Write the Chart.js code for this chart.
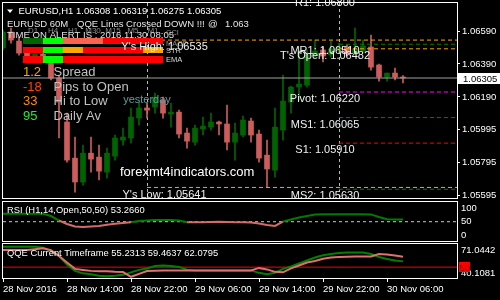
<!DOCTYPE html>
<html>
<head>
<meta charset="utf-8">
<script src="https://cdn.jsdelivr.net/npm/chart.js@4.4.1/dist/chart.umd.min.js"></script>
<style>
  html, body { margin: 0; padding: 0; background: #000; }
  #wrap { position: relative; width: 500px; height: 300px; overflow: hidden; background: #000; }
  canvas { position: absolute; left: 0; }
</style>
</head>
<body>
<div id="wrap">
  <canvas id="main" width="500" height="200" style="top:0px"></canvas>
  <canvas id="rsi" width="500" height="42" style="top:200px"></canvas>
  <canvas id="qqe" width="500" height="58" style="top:242px"></canvas>
</div>
<script>
// EURUSD H1, bar 0 = 28 Nov 06:00, one bar per hour
const timeLabels = ['28 Nov 2016', '28 Nov 14:00', '28 Nov 22:00', '29 Nov 06:00', '29 Nov 14:00', '29 Nov 22:00', '30 Nov 06:00'];
const timeTickBars = [0, 8, 16, 24, 32, 40, 48];
const daySeparators = [18, 42];

const opens = [1.06487, 1.06584, 1.06529, 1.06456, 1.06426, 1.06450, 1.06402, 1.06305, 1.06038, 1.05819,
  1.05674, 1.05849, 1.05825, 1.05734, 1.05831, 1.05928, 1.05941, 1.06062, 1.06123, 1.06129,
  1.06171, 1.06086, 1.06098, 1.05971, 1.05916, 1.05995, 1.06007, 1.06038, 1.06026, 1.05916,
  1.05959, 1.06044, 1.05965, 1.05837, 1.05746, 1.05989, 1.06159, 1.06250, 1.06262, 1.06444,
  1.06475, 1.06444, 1.06482, 1.06493, 1.06456, 1.06469, 1.06493, 1.06384, 1.06311, 1.06335, 1.06308];
const highs = [1.06596, 1.06608, 1.06554, 1.06469, 1.06463, 1.06463, 1.06414, 1.06323, 1.06092, 1.05947,
  1.05898, 1.05947, 1.05898, 1.05880, 1.05959, 1.06001, 1.06123, 1.06159, 1.06153, 1.06214,
  1.06189, 1.06153, 1.06110, 1.06001, 1.06019, 1.06068, 1.06092, 1.06044, 1.06141, 1.06032,
  1.06074, 1.06062, 1.05989, 1.05928, 1.06123, 1.06323, 1.06256, 1.06475, 1.06475, 1.06535,
  1.06493, 1.06529, 1.06517, 1.06505, 1.06608, 1.06535, 1.06566, 1.06390, 1.06335, 1.06365, 1.06319];
const lows = [1.06475, 1.06517, 1.06444, 1.06414, 1.06414, 1.06396, 1.06293, 1.05941, 1.05795, 1.05613,
  1.05655, 1.05734, 1.05686, 1.05698, 1.05807, 1.05898, 1.05910, 1.06019, 1.06062, 1.06092,
  1.06062, 1.06007, 1.05941, 1.05880, 1.05898, 1.05959, 1.05989, 1.05959, 1.05868, 1.05807,
  1.05947, 1.05916, 1.05795, 1.05641, 1.05704, 1.05928, 1.06092, 1.06171, 1.06250, 1.06426,
  1.06402, 1.06432, 1.06456, 1.06438, 1.06450, 1.06463, 1.06353, 1.06286, 1.06286, 1.06293, 1.06275];
const closes = [1.06584, 1.06535, 1.06456, 1.06426, 1.06450, 1.06402, 1.06305, 1.06159, 1.05807, 1.05674,
  1.05849, 1.05813, 1.05740, 1.05849, 1.05941, 1.05947, 1.06068, 1.06123, 1.06110, 1.06189,
  1.06092, 1.06098, 1.05965, 1.05922, 1.06001, 1.06013, 1.06038, 1.06026, 1.05916, 1.05971,
  1.06050, 1.05959, 1.05819, 1.05753, 1.06007, 1.06165, 1.06250, 1.06268, 1.06444, 1.06469,
  1.06438, 1.06481, 1.06493, 1.06456, 1.06481, 1.06499, 1.06371, 1.06311, 1.06335, 1.06311, 1.06305];

const priceTicks = [1.05595, 1.05795, 1.05995, 1.06190, 1.06390, 1.06590];

// daily pivot levels (today) and yesterday's range
const levelNames = ['R1', 'MR1', "T's Open", 'Pivot', 'MS1', 'S1', 'MS2'];
const levelValues = [1.06800, 1.06510, 1.06482, 1.06220, 1.06065, 1.05910, 1.05630];
const levelColors = ['#FF0000', '#008000', '#FFA500', '#FF00FF', '#008000', '#FF0000', '#008000'];
const yesterdayHigh = 1.06535;
const yesterdayLow = 1.05641;

const rsiValues = [79.6, 79.6, 79.6, 79.6, 79.6, 79.2, 71.1, 54.4, 41.5, 32.2,
  30.4, 32.2, 34.1, 39.0, 42.2, 45.6, 48.1, 52.6, 54.4, 56.3,
  56.3, 56.3, 54.4, 47.8, 47.8, 48.1, 48.9, 49.6, 48.9, 47.8,
  47.8, 47.0, 43.3, 37.8, 34.1, 50.7, 58.1, 65.6, 71.1, 76.7,
  77.4, 77.4, 77.4, 77.4, 77.4, 77.4, 77.0, 67.4, 58.9, 58.1, 58.1];
const rsiTicks = [0, 50, 100];
const rsiLevel = 50;

const qqeFast = [68.62, 68.62, 68.62, 68.62, 68.62, 67.72, 64.57, 60.08, 52.42, 46.59,
  44.34, 43.44, 42.10, 41.65, 42.10, 42.99, 45.24, 47.49, 48.84, 51.08,
  51.53, 51.08, 50.19, 47.67, 47.04, 47.04, 47.04, 47.04, 47.04, 47.04,
  47.04, 47.04, 44.79, 43.44, 44.79, 48.39, 50.63, 53.33, 56.03, 58.73,
  60.80, 61.87, 62.77, 63.22, 63.22, 63.22, 61.87, 59.18, 57.38, 56.03, 55.23];
const qqeSlow = [65.65, 65.65, 65.65, 65.65, 66.37, 67.09, 65.47, 60.08, 54.23, 48.39,
  47.49, 46.59, 46.14, 46.14, 45.69, 45.51, 41.20, 43.89, 46.41, 46.77,
  47.04, 47.04, 47.04, 47.04, 47.04, 47.04, 47.04, 47.04, 47.04, 47.04,
  47.04, 47.04, 49.29, 47.94, 45.69, 45.24, 48.84, 51.53, 54.23, 55.58,
  57.56, 58.73, 59.18, 59.40, 59.63, 59.63, 59.63, 61.87, 61.42, 60.52, 59.46];
const qqeMin = 40.1081;
const qqeMax = 71.0442;
const qqeLevel = 50;

// signal table in the corner
const tfNames = ['D1', 'H4', 'H1', 'M30', 'M15', 'M5', 'M1'];
const signalNames = ['CCI', 'MACD', 'STR', 'EMA'];
const DG = '#006400', LG = '#00FF00', SA = '#F86450', RD = '#FF0000', OR = '#FFA500';
const signalRows = [
  [DG, LG, SA, SA, RD, RD, RD],
  [RD, LG, OR, RD, RD, RD, OR],
  [RD, LG, RD, RD, RD, RD, RD]
];

const FONT = "'Liberation Sans', Arial, sans-serif";
const axisFont = { family: FONT, size: 9.5 };
const xMax = 56.75;
const last = closes.length - 1;
const bull = '#006400', bear = '#CD5C5C';
const bars = closes.map((c, i) => i);

function text(ctx, s, x, y, color, size, align) {
  ctx.font = size + 'px ' + FONT;
  ctx.fillStyle = color;
  ctx.textAlign = align || 'left';
  ctx.textBaseline = 'alphabetic';
  ctx.fillText(s, x, y);
}

function levelLine(from, value, color, dash) {
  return {
    type: 'line', data: [{ x: from, y: value }, { x: xMax, y: value }],
    borderColor: color, borderWidth: 1, borderDash: dash, pointRadius: 0, order: 0
  };
}

// keep the plot box fixed: no extra room for half tick labels
function fixRightAxis(s) {
  s.width = 43;
  s.paddingTop = 0;
  s.paddingBottom = 0;
}

const frame = {
  id: 'frame',
  afterDraw(chart) {
    const { ctx, chartArea: a } = chart;
    ctx.save();
    ctx.strokeStyle = '#fff';
    ctx.lineWidth = 1;
    ctx.strokeRect(a.left - 0.5, a.top - 0.5, a.right - a.left + 1, a.bottom - a.top + 1);
    ctx.restore();
  }
};

const mainOverlay = {
  id: 'mainOverlay',
  beforeDatasetsDraw(chart) {
    const { ctx, chartArea: a, scales: { x } } = chart;
    ctx.save();
    ctx.strokeStyle = '#b8b8b8';
    ctx.lineWidth = 1;
    ctx.setLineDash([3, 3]);
    daySeparators.forEach(b => {
      const px = Math.round(x.getPixelForValue(b)) + 0.5;
      ctx.beginPath();
      ctx.moveTo(px, a.top);
      ctx.lineTo(px, a.bottom);
      ctx.stroke();
    });
    ctx.restore();
  },
  afterDraw(chart) {
    const { ctx, scales: { x, y } } = chart;
    const sepY = x.getPixelForValue(daySeparators[0]);
    const sepT = x.getPixelForValue(daySeparators[1]);
    ctx.save();

    // level captions, clipped to the price panel
    ctx.save();
    ctx.beginPath();
    ctx.rect(0, 0, 458, 198.5);
    ctx.clip();
    levelNames.forEach((n, i) => {
      text(ctx, n + ': ' + levelValues[i].toFixed(5), sepT - 14, y.getPixelForValue(levelValues[i]) + 10, '#f0f0f0', 11, 'center');
    });
    text(ctx, "Y's Low: " + yesterdayLow.toFixed(5), sepY + 17.5, y.getPixelForValue(yesterdayLow) + 10.4, '#f0f0f0', 11, 'center');
    ctx.restore();

    text(ctx, 'yesterday', sepY, 103, '#5F9EA0', 11, 'center');
    text(ctx, 'forexmt4indicators.com', 120, 176, '#ffffff', 13);

    // header
    ctx.fillStyle = '#fff';
    ctx.beginPath();
    ctx.moveTo(7, 9.5); ctx.lineTo(13, 9.5); ctx.lineTo(10, 13); ctx.closePath();
    ctx.fill();
    const ohlc = [opens[last], highs[last], lows[last], closes[last]].map(v => v.toFixed(5)).join(' ');
    text(ctx, 'EURUSD,H1 ' + ohlc, 18.5, 14, '#ffffff', 9.5);
    text(ctx, 'EURUSD 60M', 7, 26.7, '#e6e6e6', 9.5);
    text(ctx, 'QQE Lines Crossed DOWN !!!', 77, 26.7, '#e6e6e6', 9.5);
    text(ctx, '@', 208, 26.7, '#e6e6e6', 9.5);
    text(ctx, closes[last].toFixed(3), 225, 26.7, '#e6e6e6', 9.5);

    tfNames.forEach((t, c) => text(ctx, t, 33 + 20 * c, 33, '#8c8c8c', 8, 'center'));
    text(ctx, 'TIME ON ALERT IS : 2016.11.30 08:05', 7, 38.3, '#e0e0e0', 9.6);

    // signal table
    const rowTop = [38, 47, 56];
    signalRows.forEach((row, r) => {
      row.forEach((col, c) => {
        ctx.fillStyle = col;
        ctx.fillRect(23 + 20 * c, rowTop[r], 20, r === 2 ? 7 : 6);
      });
    });
    const sigY = [35, 46, 53, 62];
    const sigCol = ['#8c8c8c', '#8c8c8c', '#c8c8c8', '#d8d8d8'];
    signalNames.forEach((s, i) => text(ctx, s, 166, sigY[i], sigCol[i], 7.5));

    text(ctx, "Y's High: " + yesterdayHigh.toFixed(5), sepY + 17.5, y.getPixelForValue(yesterdayHigh) + 9.5, '#f0f0f0', 11, 'center');

    // spread block
    const stats = [['1.2', 'Spread', '#FFA500'], ['-18', 'Pips to Open', '#FF4500'], ['33', 'Hi to Low', '#FF8C00'], ['95', 'Daily Av', '#22EE22']];
    stats.forEach((s, i) => {
      const by = 76 + 14.7 * i;
      text(ctx, s[0], 23, by, s[2], 13);
      text(ctx, s[1], 53.5, by, '#c0c0c0', 13);
    });

    // bid label
    const py = Math.round(y.getPixelForValue(closes[last]));
    ctx.fillStyle = '#ffffff';
    ctx.fillRect(458, py - 5, 42, 11);
    text(ctx, closes[last].toFixed(5), 463, py + 4, '#000000', 9.5);
    ctx.restore();
  }
};

const dirColor = c => (closes[c.dataIndex] >= opens[c.dataIndex] ? bull : bear);

new Chart(document.getElementById('main'), {
  type: 'bar',
  data: {
    datasets: [
      ...levelNames.map((n, i) => levelLine(daySeparators[1], levelValues[i], levelColors[i], [4, 3])),
      levelLine(daySeparators[0], yesterdayHigh, '#FFA500', [4, 3]),
      levelLine(daySeparators[0], yesterdayLow, '#FFA500', [4, 3]),
      levelLine(0, closes[last], '#a0a0a0', []),
      {
        data: bars.map(i => ({ x: i, y: [lows[i], highs[i]] })),
        backgroundColor: dirColor, barThickness: 1, grouped: false, order: 2
      },
      {
        data: bars.map(i => ({ x: i, y: [opens[i], closes[i]] })),
        backgroundColor: dirColor, barThickness: 5, grouped: false, minBarLength: 1, order: 1
      }
    ]
  },
  options: {
    responsive: false,
    animation: false,
    layout: { padding: { left: 3, top: 3, bottom: 2, right: 0 } },
    plugins: { legend: { display: false }, tooltip: { enabled: false } },
    scales: {
      x: { type: 'linear', min: 0, max: xMax, offset: false, display: false },
      y: {
        position: 'right', min: 1.05577, max: 1.06760,
        afterFit: fixRightAxis,
        afterBuildTicks: s => { s.ticks = priceTicks.map(v => ({ value: v })); },
        grid: { drawOnChartArea: false, color: '#ffffff', tickLength: 3 },
        border: { display: false },
        ticks: { color: '#ffffff', font: axisFont, padding: 2, autoSkip: false, callback: v => v.toFixed(5) }
      }
    }
  },
  plugins: [mainOverlay, frame]
});

// RSI panel
const rsiUp = '#007A00', rsiDown = '#D46A6A';
const rsiOverlay = {
  id: 'rsiOverlay',
  afterDraw(chart) {
    text(chart.ctx, 'RSI (H1,14,Open,50,50) 53.2660', 7, 12.7, '#ffffff', 9.4);
  }
};
new Chart(document.getElementById('rsi'), {
  type: 'line',
  data: {
    datasets: [
      { data: [{ x: 0, y: rsiLevel }, { x: xMax, y: rsiLevel }], borderColor: '#c8c8c8', borderWidth: 1, borderDash: [3, 3], pointRadius: 0, order: 2 },
      {
        data: bars.map(i => ({ x: i, y: rsiValues[i] })),
        borderColor: rsiUp, borderWidth: 2, pointRadius: 0, tension: 0, order: 1,
        segment: { borderColor: c => ((c.p0.parsed.y + c.p1.parsed.y) / 2 >= rsiLevel ? rsiUp : rsiDown) }
      }
    ]
  },
  options: {
    responsive: false,
    animation: false,
    layout: { padding: { left: 3, top: 2, bottom: 1, right: 0 } },
    plugins: { legend: { display: false }, tooltip: { enabled: false } },
    scales: {
      x: { type: 'linear', min: 0, max: xMax, display: false },
      y: {
        position: 'right', min: -21.5, max: 123,
        afterFit: fixRightAxis,
        afterBuildTicks: s => { s.ticks = rsiTicks.map(v => ({ value: v })); },
        grid: { drawOnChartArea: false, drawTicks: false },
        border: { display: false },
        ticks: { color: '#ffffff', font: axisFont, padding: 4, autoSkip: false }
      }
    }
  },
  plugins: [rsiOverlay, frame]
});

// QQE panel
const qqeOverlay = {
  id: 'qqeOverlay',
  afterDraw(chart) {
    const { ctx, scales: { y } } = chart;
    text(ctx, 'QQE Current Timeframe 55.2313 59.4637 62.0795', 7, 14, '#ffffff', 9.4);
    const py = Math.round(y.getPixelForValue(qqeLevel));
    ctx.fillStyle = '#FF0000';
    ctx.fillRect(459, py - 5, 11, 10);
    text(ctx, String(qqeLevel), 459.5, py + 3.5, '#A00000', 9.5);
  }
};
new Chart(document.getElementById('qqe'), {
  type: 'line',
  data: {
    datasets: [
      { data: [{ x: 0, y: qqeLevel }, { x: xMax, y: qqeLevel }], borderColor: '#FF0000', borderWidth: 1, pointRadius: 0, order: 3 },
      { data: bars.map(i => ({ x: i, y: qqeFast[i] })), borderColor: '#008000', borderWidth: 2, pointRadius: 0, order: 2 },
      { data: bars.map(i => ({ x: i, y: qqeSlow[i] })), borderColor: '#E07070', borderWidth: 2, pointRadius: 0, order: 1 }
    ]
  },
  options: {
    responsive: false,
    animation: false,
    layout: { padding: { left: 3, top: 2, bottom: 0, right: 0 } },
    plugins: { legend: { display: false }, tooltip: { enabled: false } },
    scales: {
      x: {
        type: 'linear', min: 0, max: xMax, offset: false, position: 'bottom',
        afterFit: s => { s.height = 22; s.paddingLeft = 0; s.paddingRight = 0; },
        afterBuildTicks: s => { s.ticks = timeTickBars.map(v => ({ value: v })); },
        grid: { drawOnChartArea: false, color: '#ffffff', tickLength: 4 },
        border: { display: false },
        ticks: { color: '#ffffff', font: axisFont, align: 'start', padding: 2, maxRotation: 0, autoSkip: false, callback: (v, i) => timeLabels[i] }
      },
      y: {
        position: 'right', min: qqeMin, max: qqeMax,
        afterFit: fixRightAxis,
        // the range labels sit just inside the top and bottom of the panel
        afterBuildTicks: s => {
          const span = qqeMax - qqeMin;
          s.ticks = [{ value: qqeMax - 0.2 * span }, { value: qqeMin + 0.15 * span }];
        },
        grid: { drawOnChartArea: false, drawTicks: false },
        border: { display: false },
        ticks: { color: '#ffffff', font: axisFont, padding: 4, autoSkip: false, callback: (v, i) => (i === 0 ? qqeMax : qqeMin).toFixed(4) }
      }
    }
  },
  plugins: [qqeOverlay, frame]
});
</script>
</body>
</html>
